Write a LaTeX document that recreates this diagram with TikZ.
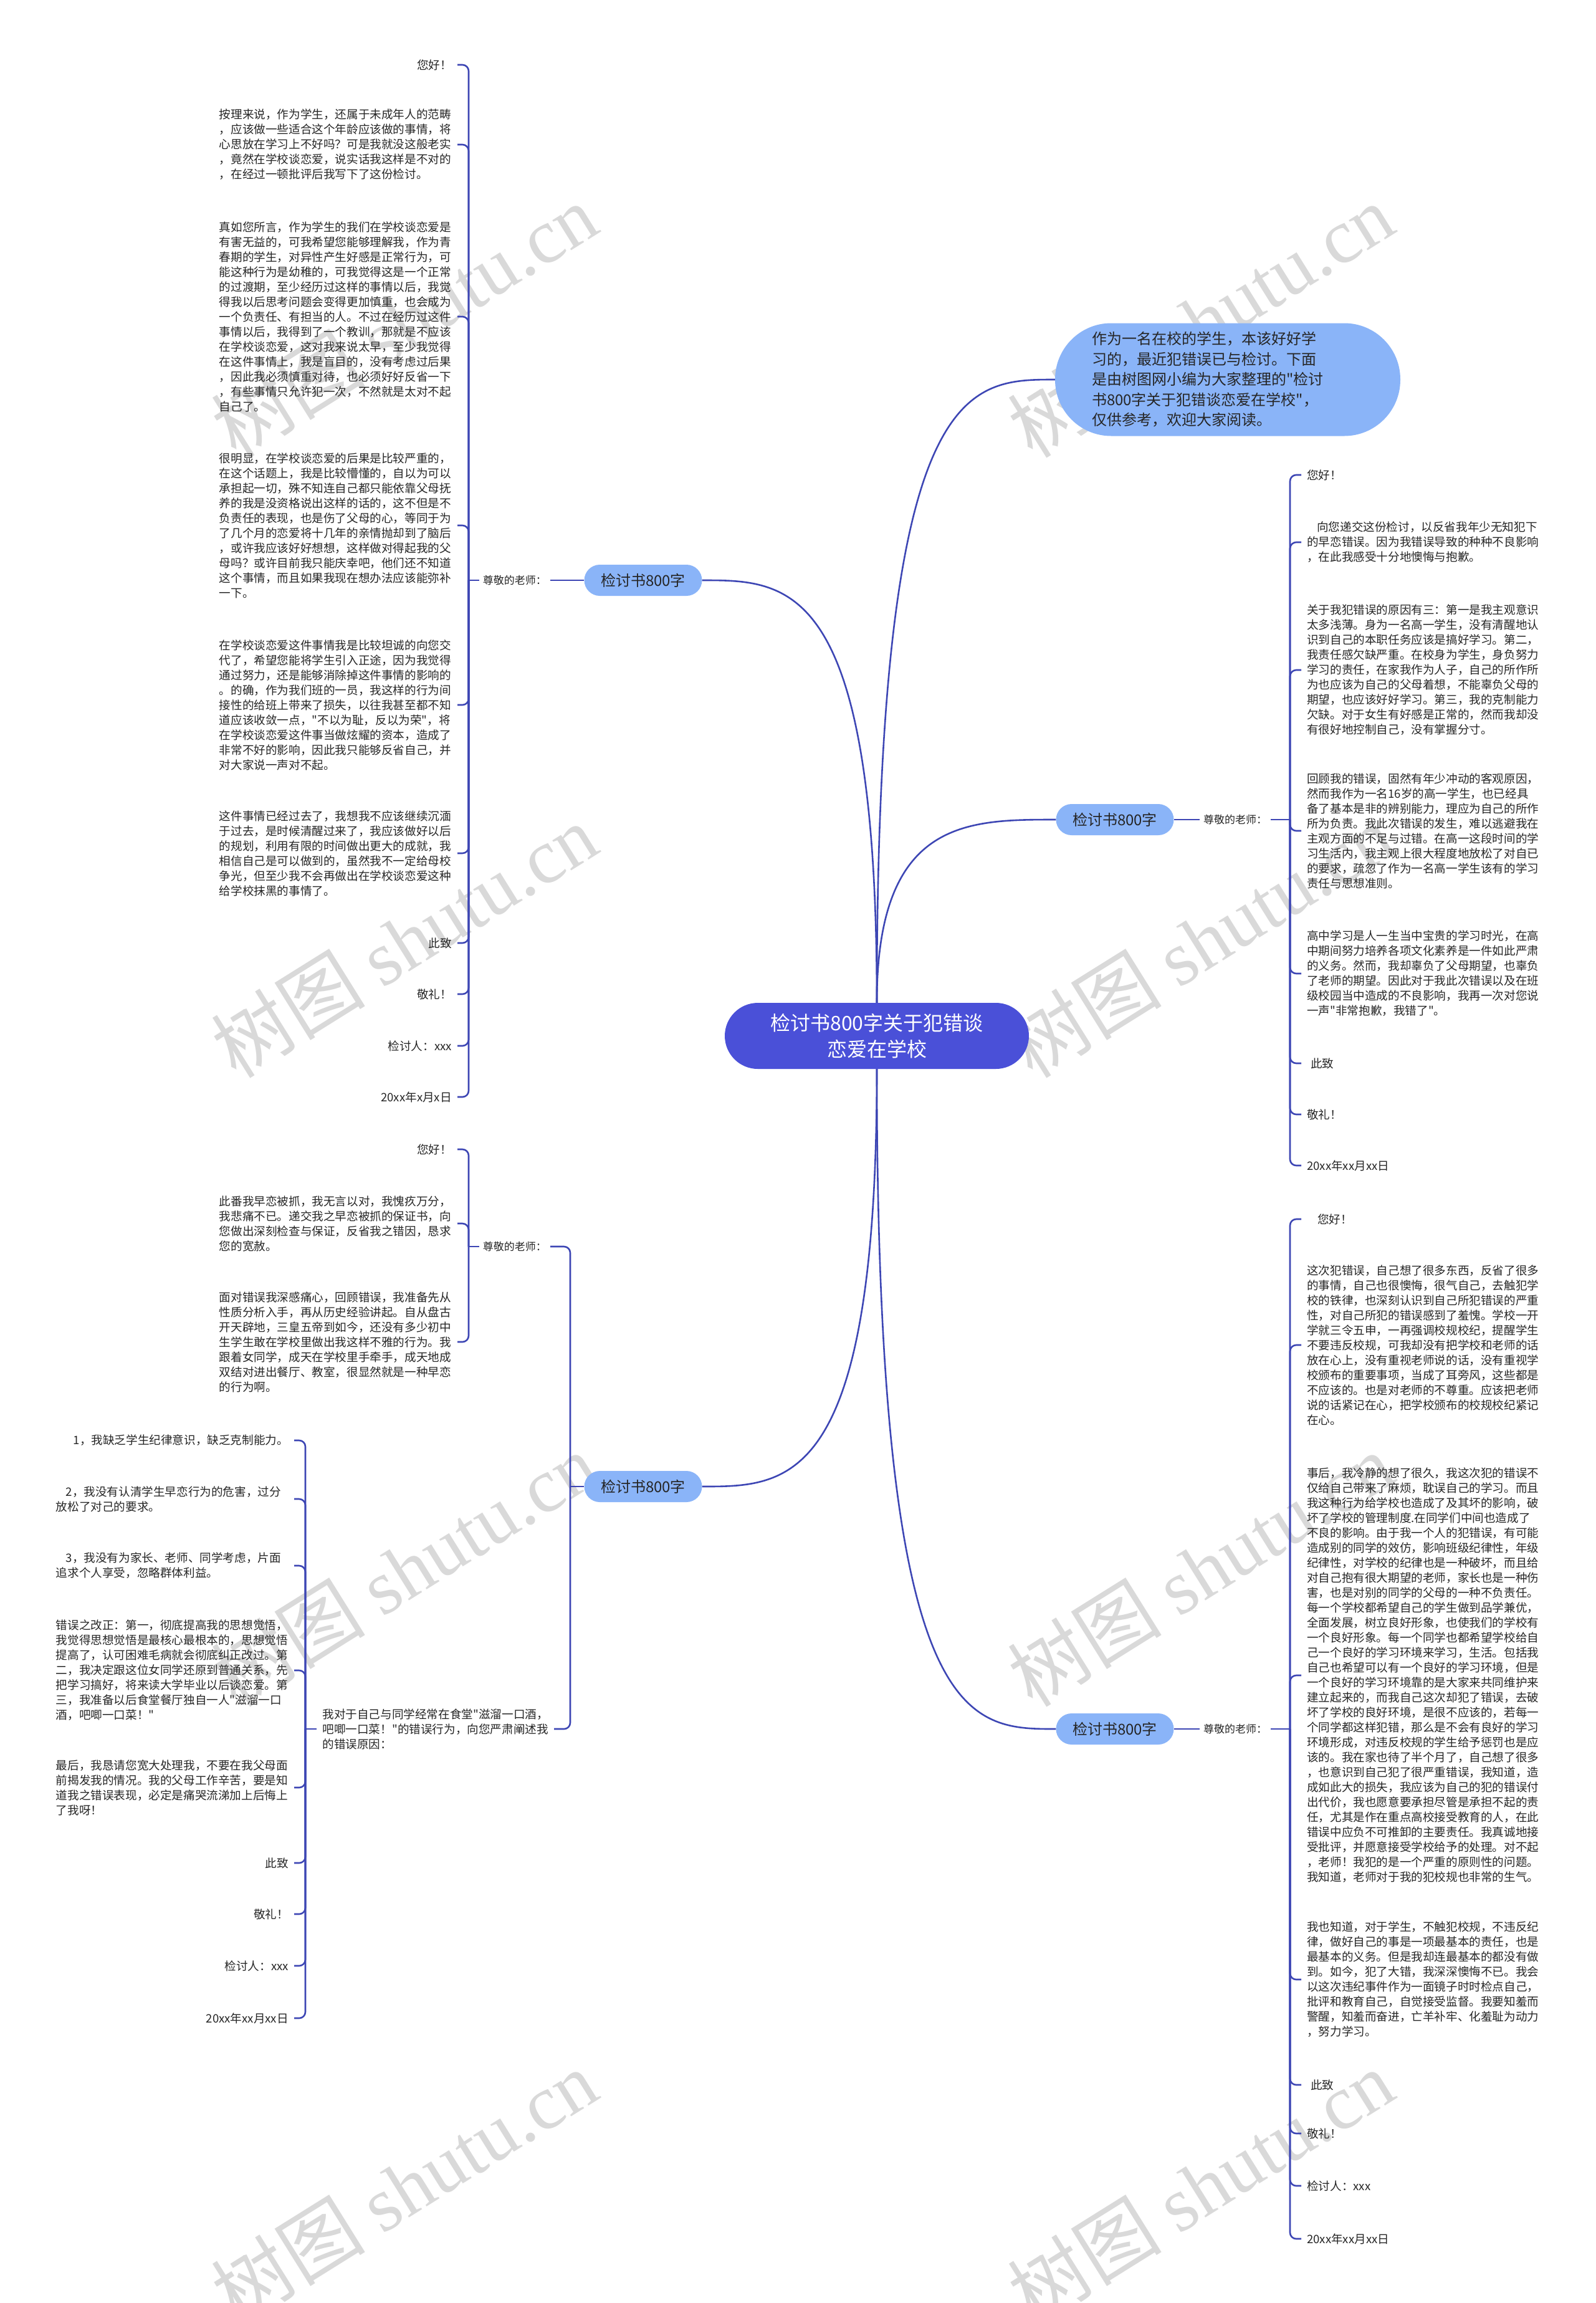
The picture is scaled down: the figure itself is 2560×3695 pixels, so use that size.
\documentclass[tikz,border=0pt]{standalone}
\usepackage{fontspec}
\setmainfont{Noto Sans CJK SC}[Ligatures=TeXOff]
\newfontfamily\wmlat{Liberation Serif}
\usetikzlibrary{calc}
\definecolor{linec}{HTML}{3D46B4}
\definecolor{rootc}{HTML}{4A50D8}
\definecolor{subc}{HTML}{8AB4F8}
\definecolor{txtc}{HTML}{262626}
\definecolor{wmc}{HTML}{D9D9D9}
\newcommand\bodyf{\fontsize{18.6pt}{24pt}\selectfont}
\newcommand\lblf{\fontsize{17pt}{20pt}\selectfont}
\newcommand\subf{\fontsize{24pt}{30pt}\selectfont}
\newcommand\introf{\fontsize{24pt}{32.5pt}\selectfont}
\newcommand\rootf{\fontsize{32pt}{42pt}\selectfont}
\newcommand\wmf{\fontsize{124pt}{124pt}\selectfont}
\begin{document}
\begin{tikzpicture}[x=1pt,y=-1pt,
  main/.style={draw=linec, line width=2.6pt},
  br/.style={draw=linec, line width=2.6pt, rounded corners=10pt},
  tl/.style={font=\bodyf, text=txtc, align=left, inner xsep=9pt, inner ysep=2pt, anchor=east},
  tlw/.style={tl, text width=373pt},
  tr/.style={font=\bodyf, text=txtc, align=left, inner xsep=9pt, inner ysep=2pt, anchor=west},
  lbl/.style={font=\lblf, text=txtc, inner xsep=6pt, inner ysep=2pt},
  sub/.style={fill=subc, rounded corners=25pt, minimum width=189pt, minimum height=50pt, font=\subf, text=txtc, inner sep=0pt},
  intro/.style={fill=subc, rounded corners=90pt, minimum height=181pt, text width=436pt, inner xsep=59pt, inner ysep=0pt, align=left, font=\introf, text=txtc},
  root/.style={fill=rootc, text=white, minimum width=488pt, minimum height=106pt, rounded corners=53pt, align=center, font=\rootf, inner sep=0pt},
  wm/.style={text=wmc, rotate=32, inner sep=0pt, font=\wmf}]
\fill[white] (0,0) rectangle (2560,3695);
\useasboundingbox (0,0) rectangle (2560,3695);

% watermarks
\foreach \i/\x/\y in {1/648/514, 2/648/1509, 3/648/2518, 4/648/3508, 5/1926/514, 6/1926/1509, 7/1926/2518, 8/1926/3508}
  \node[wm] (wm\i) at (\x,\y) {树图 {\wmlat shutu.cn}};

% root and branches
\node[root] (c) at (1407,1662) {检讨书800字关于犯错谈\\恋爱在学校};
\node[intro] (intro) at (1970,609) {作为一名在校的学生，本该好好学\\习的，最近犯错误已与检讨。下面\\是由树图网小编为大家整理的"检讨\\书800字关于犯错谈恋爱在学校"，\\仅供参考，欢迎大家阅读。};
\node[sub] (L1) at (1032,931) {检讨书800字};
\node[sub] (L2) at (1032,2385) {检讨书800字};
\node[sub] (R1) at (1789,1315) {检讨书800字};
\node[sub] (R2) at (1789,2774) {检讨书800字};

\draw[main] (c.north) .. controls (c.north |- intro.west) and ($(c.north |- intro.west)!0.5!(intro.west)$) .. (intro.west);
\draw[main] (c.north) .. controls (c.north |- R1.west) and ($(c.north |- R1.west)!0.5!(R1.west)$) .. (R1.west);
\draw[main] (c.north) .. controls (c.north |- L1.east) and ($(c.north |- L1.east)!0.5!(L1.east)$) .. (L1.east);
\draw[main] (c.south) .. controls (c.south |- R2.west) and ($(c.south |- R2.west)!0.5!(R2.west)$) .. (R2.west);
\draw[main] (c.south) .. controls (c.south |- L2.east) and ($(c.south |- L2.east)!0.5!(L2.east)$) .. (L2.east);

% labels
\node[lbl, anchor=east] (lL1) at (883,931) {尊敬的老师：};
\node[lbl, anchor=east] (lL2) at (883,2000) {尊敬的老师：};
\node[lbl, anchor=west] (lR1) at (1925,1315) {尊敬的老师：};
\node[lbl, anchor=west] (lR2) at (1925,2774) {尊敬的老师：};

\coordinate (bL1) at (752,931);
\coordinate (bL2) at (915,2385);
\coordinate (bL2a) at (752,2000);
\coordinate (bL2b) at (490,2774);
\coordinate (bR1) at (2070,1315);
\coordinate (bR2) at (2070,2774);

% ---------- L1 children ----------
\node[tl] (a1) at (734,104) {您好！};
\node[tlw] (a2) at (734,232) {按理来说，作为学生，还属于未成年人的范畴\\，应该做一些适合这个年龄应该做的事情，将\\心思放在学习上不好吗？可是我就没这般老实\\，竟然在学校谈恋爱，说实话我这样是不对的\\，在经过一顿批评后我写下了这份检讨。};
\node[tlw] (a3) at (734,508) {真如您所言，作为学生的我们在学校谈恋爱是\\有害无益的，可我希望您能够理解我，作为青\\春期的学生，对异性产生好感是正常行为，可\\能这种行为是幼稚的，可我觉得这是一个正常\\的过渡期，至少经历过这样的事情以后，我觉\\得我以后思考问题会变得更加慎重，也会成为\\一个负责任、有担当的人。不过在经历过这件\\事情以后，我得到了一个教训，那就是不应该\\在学校谈恋爱，这对我来说太早，至少我觉得\\在这件事情上，我是盲目的，没有考虑过后果\\，因此我必须慎重对待，也必须好好反省一下\\，有些事情只允许犯一次，不然就是太对不起\\自己了。};
\node[tlw] (a4) at (734,843) {很明显，在学校谈恋爱的后果是比较严重的，\\在这个话题上，我是比较懵懂的，自以为可以\\承担起一切，殊不知连自己都只能依靠父母抚\\养的我是没资格说出这样的话的，这不但是不\\负责任的表现，也是伤了父母的心，等同于为\\了几个月的恋爱将十几年的亲情抛却到了脑后\\，或许我应该好好想想，这样做对得起我的父\\母吗？或许目前我只能庆幸吧，他们还不知道\\这个事情，而且如果我现在想办法应该能弥补\\一下。};
\node[tlw] (a5) at (734,1131) {在学校谈恋爱这件事情我是比较坦诚的向您交\\代了，希望您能将学生引入正途，因为我觉得\\通过努力，还是能够消除掉这件事情的影响的\\。的确，作为我们班的一员，我这样的行为间\\接性的给班上带来了损失，以往我甚至都不知\\道应该收敛一点，"不以为耻，反以为荣"，将\\在学校谈恋爱这件事当做炫耀的资本，造成了\\非常不好的影响，因此我只能够反省自己，并\\对大家说一声对不起。};
\node[tlw] (a6) at (734,1369) {这件事情已经过去了，我想我不应该继续沉湎\\于过去，是时候清醒过来了，我应该做好以后\\的规划，利用有限的时间做出更大的成就，我\\相信自己是可以做到的，虽然我不一定给母校\\争光，但至少我不会再做出在学校谈恋爱这种\\给学校抹黑的事情了。};
\node[tl] (a7) at (734,1513) {此致};
\node[tl] (a8) at (734,1595) {敬礼！};
\node[tl] (a9) at (734,1678) {检讨人：xxx};
\node[tl] (a10) at (734,1760) {20xx年x月x日};

\draw[main] (L1.west) -- (lL1.east);
\draw[main] (lL1.west) -- (bL1);
\foreach \n in {a1,a2,a3,a4,a5,a6,a7,a8,a9,a10} \draw[br] (bL1) |- (\n.east);

% ---------- L2 ----------
\node[tl] (b1) at (734,1844) {您好！};
\node[tlw] (b2) at (734,1963) {此番我早恋被抓，我无言以对，我愧疚万分，\\我悲痛不已。递交我之早恋被抓的保证书，向\\您做出深刻检查与保证，反省我之错因，恳求\\您的宽赦。};
\node[tlw] (b3) at (734,2153) {面对错误我深感痛心，回顾错误，我准备先从\\性质分析入手，再从历史经验讲起。自从盘古\\开天辟地，三皇五帝到如今，还没有多少初中\\生学生敢在学校里做出我这样不雅的行为。我\\跟着女同学，成天在学校里手牵手，成天地成\\双结对进出餐厅、教室，很显然就是一种早恋\\的行为啊。};
\node[tl] (wd) at (889,2774) {我对于自己与同学经常在食堂"滋溜一口酒，\\吧唧一口菜！"的错误行为，向您严肃阐述我\\的错误原因：};
\node[tl, anchor=east] (d1) at (472,2311) {1，我缺乏学生纪律意识，缺乏克制能力。};
\node[tlw, anchor=east] (d2) at (472,2405) {\hspace*{16pt}2，我没有认清学生早恋行为的危害，过分\\放松了对己的要求。};
\node[tlw, anchor=east] (d3) at (472,2512) {\hspace*{16pt}3，我没有为家长、老师、同学考虑，片面\\追求个人享受，忽略群体利益。};
\node[tlw, anchor=east] (d4) at (472,2680) {错误之改正：第一，彻底提高我的思想觉悟，\\我觉得思想觉悟是最核心最根本的，思想觉悟\\提高了，认可困难毛病就会彻底纠正改过。第\\二，我决定跟这位女同学还原到普通关系，先\\把学习搞好，将来读大学毕业以后谈恋爱。第\\三，我准备以后食堂餐厅独自一人"滋溜一口\\酒，吧唧一口菜！"};
\node[tlw, anchor=east] (d5) at (472,2868) {最后，我恳请您宽大处理我，不要在我父母面\\前揭发我的情况。我的父母工作辛苦，要是知\\道我之错误表现，必定是痛哭流涕加上后悔上\\了我呀！};
\node[tl] (d6) at (472,2989) {此致};
\node[tl] (d7) at (472,3071) {敬礼！};
\node[tl] (d8) at (472,3154) {检讨人：xxx};
\node[tl] (d9) at (472,3238) {20xx年xx月xx日};

\draw[main] (L2.west) -- (bL2);
\draw[br] (bL2) |- (lL2.east);
\draw[br] (bL2) |- (wd.east);
\draw[main] (lL2.west) -- (bL2a);
\foreach \n in {b1,b2,b3} \draw[br] (bL2a) |- (\n.east);
\draw[main] (wd.west) -- (bL2b);
\foreach \n in {d1,d2,d3,d4,d5,d6,d7,d8,d9} \draw[br] (bL2b) |- (\n.east);

% ---------- R1 ----------
\node[tr] (r1) at (2088,762) {您好！};
\node[tr] (r2) at (2088,870) {\hspace*{16pt}向您递交这份检讨，以反省我年少无知犯下\\的早恋错误。因为我错误导致的种种不良影响\\，在此我感受十分地懊悔与抱歉。};
\node[tr] (r3) at (2088,1075) {关于我犯错误的原因有三：第一是我主观意识\\太多浅薄。身为一名高一学生，没有清醒地认\\识到自己的本职任务应该是搞好学习。第二，\\我责任感欠缺严重。在校身为学生，身负努力\\学习的责任，在家我作为人子，自己的所作所\\为也应该为自己的父母着想，不能辜负父母的\\期望，也应该好好学习。第三，我的克制能力\\欠缺。对于女生有好感是正常的，然而我却没\\有很好地控制自己，没有掌握分寸。};
\node[tr] (r4) at (2088,1333) {回顾我的错误，固然有年少冲动的客观原因，\\然而我作为一名16岁的高一学生，也已经具\\备了基本是非的辨别能力，理应为自己的所作\\所为负责。我此次错误的发生，难以逃避我在\\主观方面的不足与过错。在高一这段时间的学\\习生活内，我主观上很大程度地放松了对自已\\的要求，疏忽了作为一名高一学生该有的学习\\责任与思想准则。};
\node[tr] (r5) at (2088,1562) {高中学习是人一生当中宝贵的学习时光，在高\\中期间努力培养各项文化素养是一件如此严肃\\的义务。然而，我却辜负了父母期望，也辜负\\了老师的期望。因此对于我此次错误以及在班\\级校园当中造成的不良影响，我再一次对您说\\一声"非常抱歉，我错了"。};
\node[tr] (r6) at (2088,1706) {\hspace*{6pt}此致};
\node[tr] (r7) at (2088,1788) {敬礼！};
\node[tr] (r8) at (2088,1870) {20xx年xx月xx日};

\draw[main] (R1.east) -- (lR1.west);
\draw[main] (lR1.east) -- (bR1);
\foreach \n in {r1,r2,r3,r4,r5,r6,r7,r8} \draw[br] (bR1) |- (\n.west);

% ---------- R2 ----------
\node[tr] (s1) at (2088,1956) {\hspace*{17pt}您好！};
\node[tr] (s2) at (2088,2158) {这次犯错误，自己想了很多东西，反省了很多\\的事情，自己也很懊悔，很气自己，去触犯学\\校的铁律，也深刻认识到自己所犯错误的严重\\性，对自己所犯的错误感到了羞愧。学校一开\\学就三令五申，一再强调校规校纪，提醒学生\\不要违反校规，可我却没有把学校和老师的话\\放在心上，没有重视老师说的话，没有重视学\\校颁布的重要事项，当成了耳旁风，这些都是\\不应该的。也是对老师的不尊重。应该把老师\\说的话紧记在心，把学校颁布的校规校纪紧记\\在心。};
\node[tr] (s3) at (2088,2688) {事后，我冷静的想了很久，我这次犯的错误不\\仅给自己带来了麻烦，耽误自己的学习。而且\\我这种行为给学校也造成了及其坏的影响，破\\坏了学校的管理制度.在同学们中间也造成了\\不良的影响。由于我一个人的犯错误，有可能\\造成别的同学的效仿，影响班级纪律性，年级\\纪律性，对学校的纪律也是一种破坏，而且给\\对自己抱有很大期望的老师，家长也是一种伤\\害，也是对别的同学的父母的一种不负责任。\\每一个学校都希望自己的学生做到品学兼优，\\全面发展，树立良好形象，也使我们的学校有\\一个良好形象。每一个同学也都希望学校给自\\己一个良好的学习环境来学习，生活。包括我\\自己也希望可以有一个良好的学习环境，但是\\一个良好的学习环境靠的是大家来共同维护来\\建立起来的，而我自己这次却犯了错误，去破\\坏了学校的良好环境，是很不应该的，若每一\\个同学都这样犯错，那么是不会有良好的学习\\环境形成，对违反校规的学生给予惩罚也是应\\该的。我在家也待了半个月了，自己想了很多\\，也意识到自己犯了很严重错误，我知道，造\\成如此大的损失，我应该为自己的犯的错误付\\出代价，我也愿意要承担尽管是承担不起的责\\任，尤其是作在重点高校接受教育的人，在此\\错误中应负不可推卸的主要责任。我真诚地接\\受批评，并愿意接受学校给予的处理。对不起\\，老师！我犯的是一个严重的原则性的问题。\\我知道，老师对于我的犯校规也非常的生气。};
\node[tr] (s4) at (2088,3176) {我也知道，对于学生，不触犯校规，不违反纪\\律，做好自己的事是一项最基本的责任，也是\\最基本的义务。但是我却连最基本的都没有做\\到。如今，犯了大错，我深深懊悔不已。我会\\以这次违纪事件作为一面镜子时时检点自己，\\批评和教育自己，自觉接受监督。我要知羞而\\警醒，知羞而奋进，亡羊补牢、化羞耻为动力\\，努力学习。};
\node[tr] (s5) at (2088,3345) {\hspace*{6pt}此致};
\node[tr] (s6) at (2088,3423) {敬礼！};
\node[tr] (s7) at (2088,3507) {检讨人：xxx};
\node[tr] (s8) at (2088,3592) {20xx年xx月xx日};

\draw[main] (R2.east) -- (lR2.west);
\draw[main] (lR2.east) -- (bR2);
\foreach \n in {s1,s2,s3,s4,s5,s6,s7,s8} \draw[br] (bR2) |- (\n.west);
\end{tikzpicture}
\end{document}
